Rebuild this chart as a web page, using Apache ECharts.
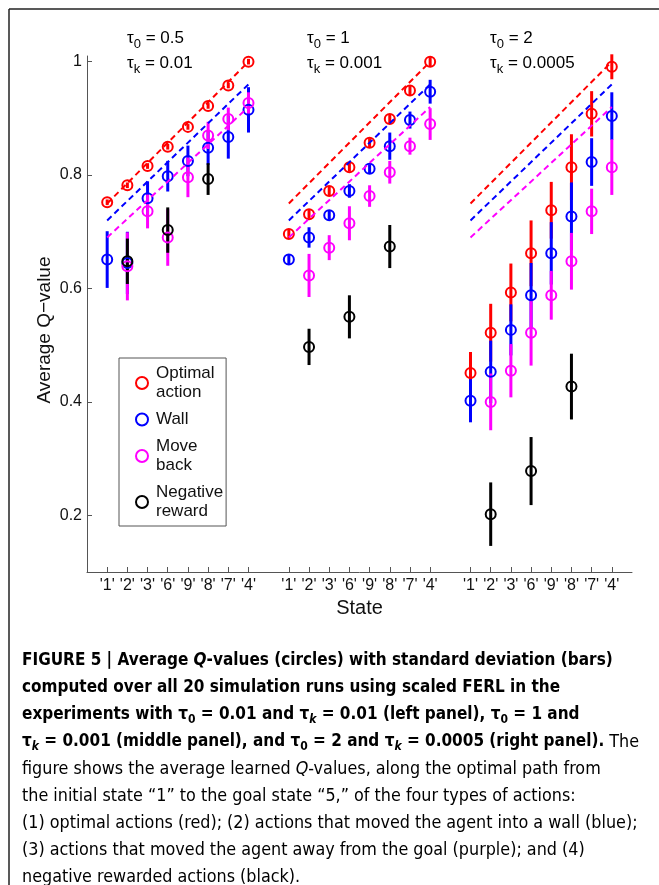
<!DOCTYPE html>
<html><head><meta charset="utf-8">
<script src="https://cdn.jsdelivr.net/npm/echarts@6/dist/echarts.min.js"></script>
<style>html,body{margin:0;padding:0;background:#fff}#c{width:659px;height:885px}</style>
</head><body><div id="c"></div>
<script>
// ---------- data ----------
const states = ["'1'", "'2'", "'3'", "'6'", "'9'", "'8'", "'7'", "'4'"];
const panelStart = [1, 10, 19];          // x position of the first state in each panel
const tau0 = ['0.5', '1', '2'];
const tauK = ['0.01', '0.001', '0.0005'];
const yTicks = [0.2, 0.4, 0.6, 0.8, 1];

// left panel (tau0 = 0.5, tauk = 0.01)
const optimalLeft    = [0.752, 0.782, 0.816, 0.850, 0.885, 0.922, 0.958, 1.000];
const optimalLeftSd  = [0.005, 0.005, 0.005, 0.005, 0.005, 0.005, 0.005, 0.005];
const wallLeft       = [0.651, 0.645, 0.759, 0.798, 0.825, 0.848, 0.867, 0.915];
const wallLeftSd     = [0.050, 0.055, 0.030, 0.027, 0.027, 0.030, 0.038, 0.040];
const moveLeft       = [null, 0.639, 0.736, 0.690, 0.796, 0.870, 0.899, 0.927];
const moveLeftSd     = [null, 0.060, 0.030, 0.050, 0.035, 0.024, 0.020, 0.019];
const negLeft        = [null, 0.648, null, 0.703, null, 0.793, null, null];
const negLeftSd      = [null, 0.040, null, 0.040, null, 0.028, null, null];

// middle panel (tau0 = 1, tauk = 0.001)
const optimalMiddle   = [0.696, 0.731, 0.772, 0.814, 0.857, 0.899, 0.949, 1.000];
const optimalMiddleSd = [0.008, 0.008, 0.008, 0.008, 0.008, 0.008, 0.008, 0.008];
const wallMiddle      = [0.651, 0.690, 0.729, 0.772, 0.811, 0.851, 0.897, 0.947];
const wallMiddleSd    = [0.008, 0.018, 0.008, 0.012, 0.008, 0.024, 0.015, 0.021];
const moveMiddle      = [null, 0.623, 0.672, 0.715, 0.763, 0.805, 0.851, 0.890];
const moveMiddleSd    = [null, 0.038, 0.022, 0.030, 0.019, 0.020, 0.015, 0.028];
const negMiddle       = [null, 0.497, null, 0.550, null, 0.674, null, null];
const negMiddleSd     = [null, 0.032, null, 0.038, null, 0.038, null, null];

// right panel (tau0 = 2, tauk = 0.0005)
const optimalRight   = [0.451, 0.522, 0.593, 0.662, 0.738, 0.814, 0.908, 0.991];
const optimalRightSd = [0.037, 0.051, 0.051, 0.058, 0.050, 0.058, 0.040, 0.022];
const wallRight      = [0.402, 0.453, 0.527, 0.588, 0.662, 0.727, 0.823, 0.904];
const wallRightSd    = [0.038, 0.055, 0.045, 0.057, 0.055, 0.060, 0.042, 0.042];
const moveRight      = [null, 0.400, 0.455, 0.522, 0.588, 0.648, 0.736, 0.814];
const moveRightSd    = [null, 0.050, 0.047, 0.058, 0.043, 0.050, 0.040, 0.049];
const negRight       = [null, 0.202, null, 0.278, null, 0.427, null, null];
const negRightSd     = [null, 0.056, null, 0.060, null, 0.058, null, null];

// dashed reference lines (value at state '1' and at state '4')
const refOptimal = [0.75, 1.00];
const refWall    = [0.72, 0.96];
const refMove    = [0.69, 0.92];

// ---------- chart ----------
const F = "'Liberation Sans', Arial, Helvetica, sans-serif";
const CF = "'Liberation Sans Narrow', 'Arial Narrow', 'DejaVu Sans Condensed', sans-serif";

const types = [
  {name: 'Optimal action', label: 'Optimal\naction', color: '#ff0000',
   means: [optimalLeft, optimalMiddle, optimalRight], sds: [optimalLeftSd, optimalMiddleSd, optimalRightSd], ref: refOptimal},
  {name: 'Wall', label: 'Wall', color: '#0000ff',
   means: [wallLeft, wallMiddle, wallRight], sds: [wallLeftSd, wallMiddleSd, wallRightSd], ref: refWall},
  {name: 'Move back', label: 'Move\nback', color: '#ff00ff',
   means: [moveLeft, moveMiddle, moveRight], sds: [moveLeftSd, moveMiddleSd, moveRightSd], ref: refMove},
  {name: 'Negative reward', label: 'Negative\nreward', color: '#000000',
   means: [negLeft, negMiddle, negRight], sds: [negLeftSd, negMiddleSd, negRightSd], ref: null}
];

const xPositions = [];
const xLabelMap = {};
panelStart.forEach(s => states.forEach((st, i) => { xPositions.push(s + i); xLabelMap[s + i] = st; }));

const series = [];
// dashed lines first (beneath)
types.forEach(t => {
  if (!t.ref) return;
  panelStart.forEach(s => {
    series.push({
      type: 'line', silent: true, symbol: 'none', animation: false,
      data: [[s, t.ref[0]], [s + states.length - 1, t.ref[1]]],
      lineStyle: {color: t.color, width: 2, type: [6, 4]}
    });
  });
});
types.forEach(t => {
  const pts = [];
  panelStart.forEach((s, p) => {
    t.means[p].forEach((m, i) => {
      if (m != null) pts.push([s + i, m, t.sds[p][i]]);
    });
  });
  series.push({
    type: 'custom', silent: true, animation: false,
    data: pts,
    encode: {x: 0, y: 1},
    renderItem: (params, api) => {
      const x = api.value(0), m = api.value(1), sd = api.value(2);
      const a = api.coord([x, m + sd]), b = api.coord([x, m - sd]);
      return {type: 'line', shape: {x1: a[0], y1: a[1], x2: b[0], y2: b[1]},
              style: {stroke: t.color, lineWidth: 3}};
    }
  });
  series.push({
    type: 'scatter', name: t.name, animation: false,
    data: pts.map(d => [d[0], d[1]]),
    symbol: 'circle', symbolSize: 10,
    itemStyle: {color: 'rgba(0,0,0,0)', borderColor: t.color, borderWidth: 2, opacity: 1}
  });
});

const legendLabels = {};
types.forEach(t => legendLabels[t.name] = t.label);

// titles
const titleX = [127, 307, 490];
const titleRich = {
  t: {fontSize: 17, lineHeight: 26, fontFamily: F, color: '#111'},
  s: {fontSize: 13, lineHeight: 8, verticalAlign: 'bottom', fontFamily: F, color: '#111'}
};
const graphics = [];
titleX.forEach((x, p) => {
  graphics.push({type: 'text', x: x, y: 38, style: {text: '{t|τ}{s|0}{t| = ' + tau0[p] + '}', rich: titleRich, verticalAlign: 'middle'}});
  graphics.push({type: 'text', x: x, y: 63, style: {text: '{t|τ}{s|k}{t| = ' + tauK[p] + '}', rich: titleRich, verticalAlign: 'middle'}});
});
// y axis title
graphics.push({type: 'text', x: 45, y: 330, rotation: Math.PI / 2,
  style: {text: 'Average Q\u2212value', font: '19px ' + F, fill: '#111', align: 'center', verticalAlign: 'middle'}});
// frame
graphics.push({type: 'line', shape: {x1: 9, y1: 9, x2: 659, y2: 9}, style: {stroke: '#222', lineWidth: 1.5}});
graphics.push({type: 'line', shape: {x1: 9, y1: 9, x2: 9, y2: 885}, style: {stroke: '#222', lineWidth: 1.5}});

// caption
const capRich = {
  b:   {fontSize: 17, fontWeight: 'bold', fontFamily: CF, color: '#111', lineHeight: 22},
  bi:  {fontSize: 17, fontWeight: 'bold', fontStyle: 'italic', fontFamily: CF, color: '#111', lineHeight: 22},
  bs:  {fontSize: 12, fontWeight: 'bold', fontFamily: CF, color: '#111', lineHeight: 12, verticalAlign: 'bottom'},
  bsi: {fontSize: 12, fontWeight: 'bold', fontStyle: 'italic', fontFamily: CF, color: '#111', lineHeight: 12, verticalAlign: 'bottom'},
  r:   {fontSize: 17.8, fontFamily: CF, color: '#3a3a3a', lineHeight: 22},
  ri:  {fontSize: 17.8, fontStyle: 'italic', fontFamily: CF, color: '#3a3a3a', lineHeight: 22}
};
const captionLines = [
  '{b|FIGURE 5 | Average }{bi|Q}{b|-values (circles) with standard deviation (bars)}',
  '{b|computed over all 20 simulation runs using scaled FERL in the}',
  '{b|experiments with τ}{bs|0}{b| = 0.01 and τ}{bsi|k}{b| = 0.01 (left panel), τ}{bs|0}{b| = 1 and}',
  '{b|τ}{bsi|k}{b| = 0.001 (middle panel), and τ}{bs|0}{b| = 2 and τ}{bsi|k}{b| = 0.0005 (right panel).}{r| The}',
  '{r|figure shows the average learned }{ri|Q}{r|-values, along the optimal path from}',
  '{r|the initial state \u201c1\u201d to the goal state \u201c5,\u201d of the four types of actions:}',
  '{r|(1) optimal actions (red); (2) actions that moved the agent into a wall (blue);}',
  '{r|(3) actions that moved the agent away from the goal (purple); and (4)}',
  '{r|negative rewarded actions (black).}'
];
captionLines.forEach((txt, i) => {
  graphics.push({type: 'text', x: 22, y: 661 + i * 27, style: {text: txt, rich: capRich, verticalAlign: 'middle'}});
});

const chart = echarts.init(document.getElementById('c'), null, {renderer: 'canvas'});
chart.setOption({
  backgroundColor: '#fff',
  animation: false,
  textStyle: {fontFamily: F},
  grid: {left: 87, right: 27, top: 56, bottom: 313, containLabel: false},
  legend: {
    data: types.map(t => t.name),
    orient: 'vertical', left: 119, top: 358,
    padding: [6, 3, 5, 16], itemGap: 8, itemWidth: 12, itemHeight: 12,
    icon: 'circle',
    borderColor: '#555', borderWidth: 1, borderRadius: 0, backgroundColor: '#fff',
    selectedMode: false,
    itemStyle: {borderWidth: 2},
    textStyle: {fontSize: 17, lineHeight: 19, color: '#111', fontFamily: F, padding: [0, 0, 0, 3]},
    formatter: n => legendLabels[n]
  },
  xAxis: {
    type: 'value', min: 0, max: 27,
    name: 'State', nameLocation: 'middle', nameGap: 21,
    nameTextStyle: {fontSize: 20, color: '#111', fontFamily: F},
    axisLine: {lineStyle: {color: '#555', width: 1}},
    axisTick: {inside: true, length: 5, customValues: xPositions, lineStyle: {color: '#555'}},
    axisLabel: {customValues: xPositions, formatter: v => xLabelMap[v] || '', fontSize: 16, color: '#111', margin: 6, fontFamily: F},
    splitLine: {show: false}
  },
  yAxis: {
    type: 'value', min: 0.1, max: 1.01,
    axisLine: {show: true, lineStyle: {color: '#555', width: 1}},
    axisTick: {show: true, inside: true, length: 5, customValues: yTicks, lineStyle: {color: '#555'}},
    axisLabel: {customValues: yTicks, formatter: v => String(v), fontSize: 16, color: '#111', margin: 5, fontFamily: F},
    splitLine: {show: false}
  },
  graphic: graphics,
  series: series
});
</script>
</body></html>
